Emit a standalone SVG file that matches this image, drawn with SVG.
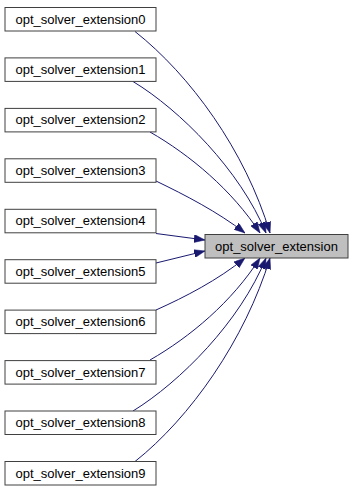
<svg xmlns="http://www.w3.org/2000/svg" width="353" height="493" viewBox="0 0 353 493">
  <style>
    .node rect { fill: #ffffff; stroke: #404040; stroke-width: 1; }
    .node.current rect { fill: #bfbfbf; }
    .node text { font-family: "Liberation Sans", Arial, sans-serif; font-size: 13px; fill: #000000; text-anchor: middle; }
    .edge { fill: none; stroke: #191970; stroke-width: 1; marker-end: url(#arrow); }
  </style>
  <defs>
    <marker id="arrow" markerUnits="userSpaceOnUse" markerWidth="11" markerHeight="8" refX="11" refY="4" orient="auto">
      <path d="M0,0 L11,4 L0,8 z" fill="#191970" stroke="#191970" stroke-width="0.5"/>
    </marker>
  </defs>
  <rect width="353" height="493" fill="#ffffff"/>

  <!-- caller edges -->
  <g id="edges">
    <path class="edge" d="M135,31.5 C190,75 245,150 270,233"/>
    <path class="edge" d="M133,81.5 C180,110 240,170 266,233"/>
    <path class="edge" d="M150,132 C190,155 232,190 260,233"/>
    <path class="edge" d="M156,181 C185,195 218,212 245,233"/>
    <path class="edge" d="M156,233.5 L205,240"/>
    <path class="edge" d="M156,263 L205,251"/>
    <path class="edge" d="M156,310 C185,297 218,280 245,258"/>
    <path class="edge" d="M150,360 C190,337 232,302 260,258"/>
    <path class="edge" d="M133,411 C180,382 240,322 266,258"/>
    <path class="edge" d="M135,461.5 C190,418 245,340 270,258"/>
  </g>

  <!-- target function -->
  <g id="node-opt_solver_extension" class="node current">
    <rect x="205" y="234.5" width="143" height="23.5"/>
    <text x="276.5" y="250.5">opt_solver_extension</text>
  </g>

  <!-- callers -->
  <g id="node-opt_solver_extension0" class="node">
    <rect x="5" y="7.5" width="151" height="23.5"/>
    <text x="80.5" y="23.5">opt_solver_extension0</text>
  </g>
  <g id="node-opt_solver_extension1" class="node">
    <rect x="5" y="57.9" width="151" height="23.5"/>
    <text x="80.5" y="73.9">opt_solver_extension1</text>
  </g>
  <g id="node-opt_solver_extension2" class="node">
    <rect x="5" y="108.4" width="151" height="23.5"/>
    <text x="80.5" y="124.4">opt_solver_extension2</text>
  </g>
  <g id="node-opt_solver_extension3" class="node">
    <rect x="5" y="158.8" width="151" height="23.5"/>
    <text x="80.5" y="174.8">opt_solver_extension3</text>
  </g>
  <g id="node-opt_solver_extension4" class="node">
    <rect x="5" y="209.3" width="151" height="23.5"/>
    <text x="80.5" y="225.3">opt_solver_extension4</text>
  </g>
  <g id="node-opt_solver_extension5" class="node">
    <rect x="5" y="259.7" width="151" height="23.5"/>
    <text x="80.5" y="275.7">opt_solver_extension5</text>
  </g>
  <g id="node-opt_solver_extension6" class="node">
    <rect x="5" y="310.1" width="151" height="23.5"/>
    <text x="80.5" y="326.1">opt_solver_extension6</text>
  </g>
  <g id="node-opt_solver_extension7" class="node">
    <rect x="5" y="360.6" width="151" height="23.5"/>
    <text x="80.5" y="376.6">opt_solver_extension7</text>
  </g>
  <g id="node-opt_solver_extension8" class="node">
    <rect x="5" y="411" width="151" height="23.5"/>
    <text x="80.5" y="427">opt_solver_extension8</text>
  </g>
  <g id="node-opt_solver_extension9" class="node">
    <rect x="5" y="461.5" width="151" height="23.5"/>
    <text x="80.5" y="477.5">opt_solver_extension9</text>
  </g>
</svg>
